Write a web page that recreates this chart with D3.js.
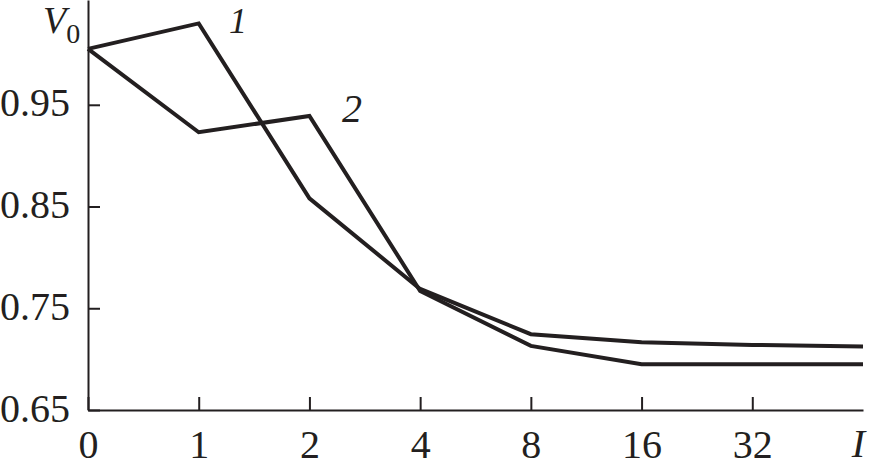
<!DOCTYPE html>
<html>
<head>
<meta charset="utf-8">
<script src="https://cdn.jsdelivr.net/npm/d3@7"></script>
<style>
  body { margin: 0; background: #fff; }
  text { font-family: "Liberation Serif", "DejaVu Serif", serif; fill: #231f20; }
</style>
</head>
<body>
<div class="chart"></div>
<script>
// DATA ------------------------------
const xCats = ['0', '1', '2', '4', '8', '16', '32', '64']
const xTickLabels = ['0', '1', '2', '4', '8', '16', '32']
const yTicks = [0.65, 0.75, 0.85, 0.95]
const curve1 = [1.005, 1.030, 0.858, 0.769, 0.7245, 0.7165, 0.714, 0.7125]
const curve2 = [1.005, 0.923, 0.939, 0.767, 0.713, 0.695, 0.695, 0.695]

const W = 871
const H = 471
const ink = '#231f20'

const svg = d3.select('.chart')
    .append('svg')
    .attr('width', W)
    .attr('height', H)

const xScale = d3.scalePoint()
    .domain(xCats)
    .range([88, 863])

const yScale = d3.scaleLinear()
    .domain([0.65, 1.053])
    .range([410, 0])

// AXES ------------------------------
const yAxis = d3.axisLeft(yScale)
    .tickValues(yTicks)
    .tickFormat(d3.format('.2f'))
    .tickSizeInner(-12)
    .tickSizeOuter(0)
    .tickPadding(18)

const xAxis = d3.axisBottom(xScale)
    .tickValues(xTickLabels)
    .tickSizeInner(-13)
    .tickSizeOuter(0)
    .tickPadding(20)

const gy = svg.append('g')
    .attr('transform', `translate(${xScale('0')},0)`)
    .call(yAxis)

const gx = svg.append('g')
    .attr('transform', `translate(0,${yScale(0.65)})`)
    .call(xAxis)

for (const g of [gx, gy]) {
    g.selectAll('path.domain, line').attr('stroke', ink).attr('stroke-width', 2)
    g.selectAll('text').attr('font-size', 40).attr('fill', ink)
        .style('font-family', '"Liberation Serif", serif')
}
gy.selectAll('text').attr('dy', '0.28em')

// axis titles
const vLabel = svg.append('text')
    .attr('x', 43)
    .attr('y', 33)
    .attr('font-size', 38)
    .attr('font-style', 'italic')
    .text('V')
vLabel.append('tspan')
    .attr('font-style', 'normal')
    .attr('font-size', 28)
    .attr('dy', 10)
    .text('0')

svg.append('text')
    .attr('x', xScale('64') + 2)
    .attr('y', 457)
    .attr('text-anchor', 'end')
    .attr('font-size', 40)
    .attr('font-style', 'italic')
    .text('I')

// LINES ------------------------------
const line = d3.line()
    .x((d, i) => xScale(xCats[i]))
    .y(d => yScale(d))

svg.selectAll('path.curve')
    .data([curve1, curve2])
    .enter()
    .append('path')
    .attr('class', 'curve')
    .attr('fill', 'none')
    .attr('stroke', ink)
    .attr('stroke-width', 4)
    .attr('stroke-linejoin', 'miter')
    .attr('d', line)

// curve labels
svg.append('text')
    .attr('x', 229)
    .attr('y', 33)
    .attr('font-size', 36)
    .attr('font-style', 'italic')
    .text('1')

svg.append('text')
    .attr('x', 342)
    .attr('y', 122)
    .attr('font-size', 40)
    .attr('font-style', 'italic')
    .text('2')
</script>
</body>
</html>
